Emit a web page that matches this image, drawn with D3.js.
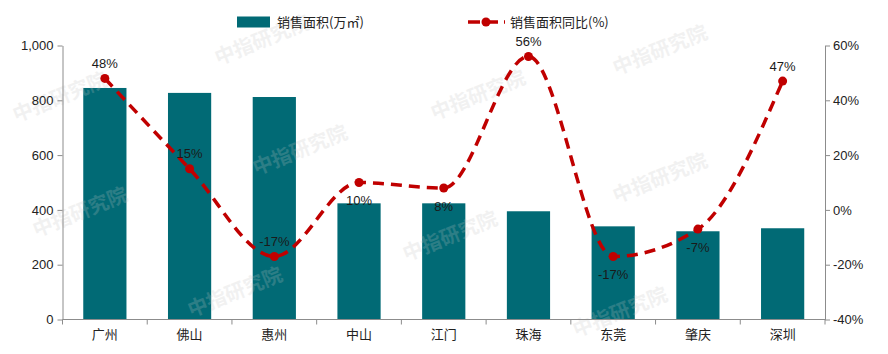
<!DOCTYPE html>
<html>
<head>
<meta charset="utf-8">
<script src="https://cdn.jsdelivr.net/npm/d3@7"></script>
<style>
  body { margin: 0; background: #fff; }
  svg { display: block; }
</style>
</head>
<body>
<div id="chart"></div>
<script>
// data
const cities = ["广州", "佛山", "惠州", "中山", "江门", "珠海", "东莞", "肇庆", "深圳"];
const area = [845, 827, 812, 424, 424, 395, 340, 322, 333];     // 万㎡
const yoy = [48, 15, -17, 10, 8, 56, -17, -7, 47];              // %
const yoyLabelSide = ["above", "above", "above", "below", "below", "above", "below", "below", "above"];
const leftTicks = [0, 200, 400, 600, 800, 1000];
const rightTicks = [-40, -20, 0, 20, 40, 60];

const width = 888, height = 354;
const margin = { top: 45.5, right: 63, bottom: 34.5, left: 62.5 };
const barColor = "#016a75";
const lineColor = "#c00000";
const axisColor = "#8c8c8c";
const numFont = "'Liberation Sans', Arial, sans-serif";
const cjkFont = "'Noto Sans CJK SC', 'Noto Sans', sans-serif";

const svg = d3.select("#chart").append("svg")
    .attr("width", width)
    .attr("height", height);

const x = d3.scaleBand()
    .domain(cities)
    .range([margin.left, width - margin.right])
    .paddingInner(0.49)
    .paddingOuter(0.245);

const yL = d3.scaleLinear().domain([0, 1000]).range([height - margin.bottom, margin.top]);
const yR = d3.scaleLinear().domain([-40, 60]).range([height - margin.bottom, margin.top]);

// bars
svg.append("g").selectAll("rect")
    .data(cities)
    .join("rect")
    .attr("x", d => x(d))
    .attr("y", (d, i) => yL(area[i]))
    .attr("width", x.bandwidth())
    .attr("height", (d, i) => yL(0) - yL(area[i]))
    .attr("fill", barColor);

// watermark (light, drawn over the bars like the original)
const marks = [[60, 97], [262, 40], [300, 150], [478, 95], [660, 50], [80, 212], [660, 178], [450, 236], [235, 292], [620, 312]];
svg.append("g").selectAll("text")
    .data(marks)
    .join("text")
    .attr("transform", d => `translate(${d[0]},${d[1]}) rotate(-22)`)
    .attr("text-anchor", "middle")
    .attr("dy", "0.35em")
    .style("font-family", cjkFont)
    .style("font-size", "20px")
    .style("font-weight", "bold")
    .style("fill", "#c4c4c4")
    .style("opacity", 0.22)
    .text("中指研究院");

// axes
function styleAxis(g) {
    g.select(".domain").attr("stroke", axisColor);
    g.selectAll(".tick line").attr("stroke", axisColor);
    g.selectAll(".tick text")
        .style("font-family", numFont)
        .style("font-size", "13px")
        .attr("fill", "#222");
}

svg.append("g")
    .attr("transform", `translate(${margin.left},0)`)
    .call(d3.axisLeft(yL).tickValues(leftTicks).tickFormat(d3.format(",")).tickSize(5).tickSizeOuter(0).tickPadding(4))
    .call(styleAxis);

svg.append("g")
    .attr("transform", `translate(${width - margin.right},0)`)
    .call(d3.axisRight(yR).tickValues(rightTicks).tickFormat(d => d + "%").tickSize(5).tickSizeOuter(0).tickPadding(3))
    .call(styleAxis);

// bottom axis with ticks between categories
const xAxis = svg.append("g")
    .attr("transform", `translate(0,${yL(0)})`);
xAxis.append("line")
    .attr("x1", margin.left).attr("x2", width - margin.right)
    .attr("stroke", axisColor);
const step = x.step();
xAxis.selectAll("line.tk")
    .data(d3.range(cities.length + 1))
    .join("line")
    .attr("class", "tk")
    .attr("x1", i => margin.left + i * step)
    .attr("x2", i => margin.left + i * step)
    .attr("y1", 0).attr("y2", 5)
    .attr("stroke", axisColor);
xAxis.selectAll("text")
    .data(cities)
    .join("text")
    .attr("x", d => x(d) + x.bandwidth() / 2)
    .attr("y", 19)
    .attr("text-anchor", "middle")
    .style("font-family", cjkFont)
    .style("font-size", "13px")
    .style("fill", "#222")
    .text(d => d);

// yoy line
const cx = i => x(cities[i]) + x.bandwidth() / 2;
const line = d3.line()
    .x((d, i) => cx(i))
    .y(d => yR(d))
    .curve(d3.curveMonotoneX);

svg.append("path")
    .datum(yoy)
    .attr("d", line)
    .attr("fill", "none")
    .attr("stroke", lineColor)
    .attr("stroke-width", 3.5)
    .attr("stroke-dasharray", "11,7");

svg.append("g").selectAll("circle")
    .data(yoy)
    .join("circle")
    .attr("cx", (d, i) => cx(i))
    .attr("cy", d => yR(d))
    .attr("r", 4.5)
    .attr("fill", lineColor);

svg.append("g").selectAll("text")
    .data(yoy)
    .join("text")
    .attr("x", (d, i) => cx(i))
    .attr("y", (d, i) => yR(d) + (yoyLabelSide[i] === "above" ? -15 : 18))
    .attr("dy", "0.35em")
    .attr("text-anchor", "middle")
    .style("font-family", numFont)
    .style("font-size", "13px")
    .style("fill", "#1a1a1a")
    .text(d => d + "%");

// legend
const legend = svg.append("g");
legend.append("rect")
    .attr("x", 237).attr("y", 16.5)
    .attr("width", 33).attr("height", 11)
    .attr("fill", barColor);
legend.append("text")
    .attr("x", 277).attr("y", 22)
    .attr("dy", "0.35em")
    .style("font-family", cjkFont)
    .style("font-size", "13px")
    .style("fill", "#222")
    .text("销售面积(万㎡)");
legend.append("line")
    .attr("x1", 468).attr("x2", 505)
    .attr("y1", 22).attr("y2", 22)
    .attr("stroke", lineColor)
    .attr("stroke-width", 3.5)
    .attr("stroke-dasharray", "12,6");
legend.append("circle")
    .attr("cx", 486).attr("cy", 22).attr("r", 4.5)
    .attr("fill", lineColor);
legend.append("text")
    .attr("x", 510).attr("y", 22)
    .attr("dy", "0.35em")
    .style("font-family", cjkFont)
    .style("font-size", "13px")
    .style("fill", "#222")
    .text("销售面积同比(%)");
</script>
</body>
</html>
